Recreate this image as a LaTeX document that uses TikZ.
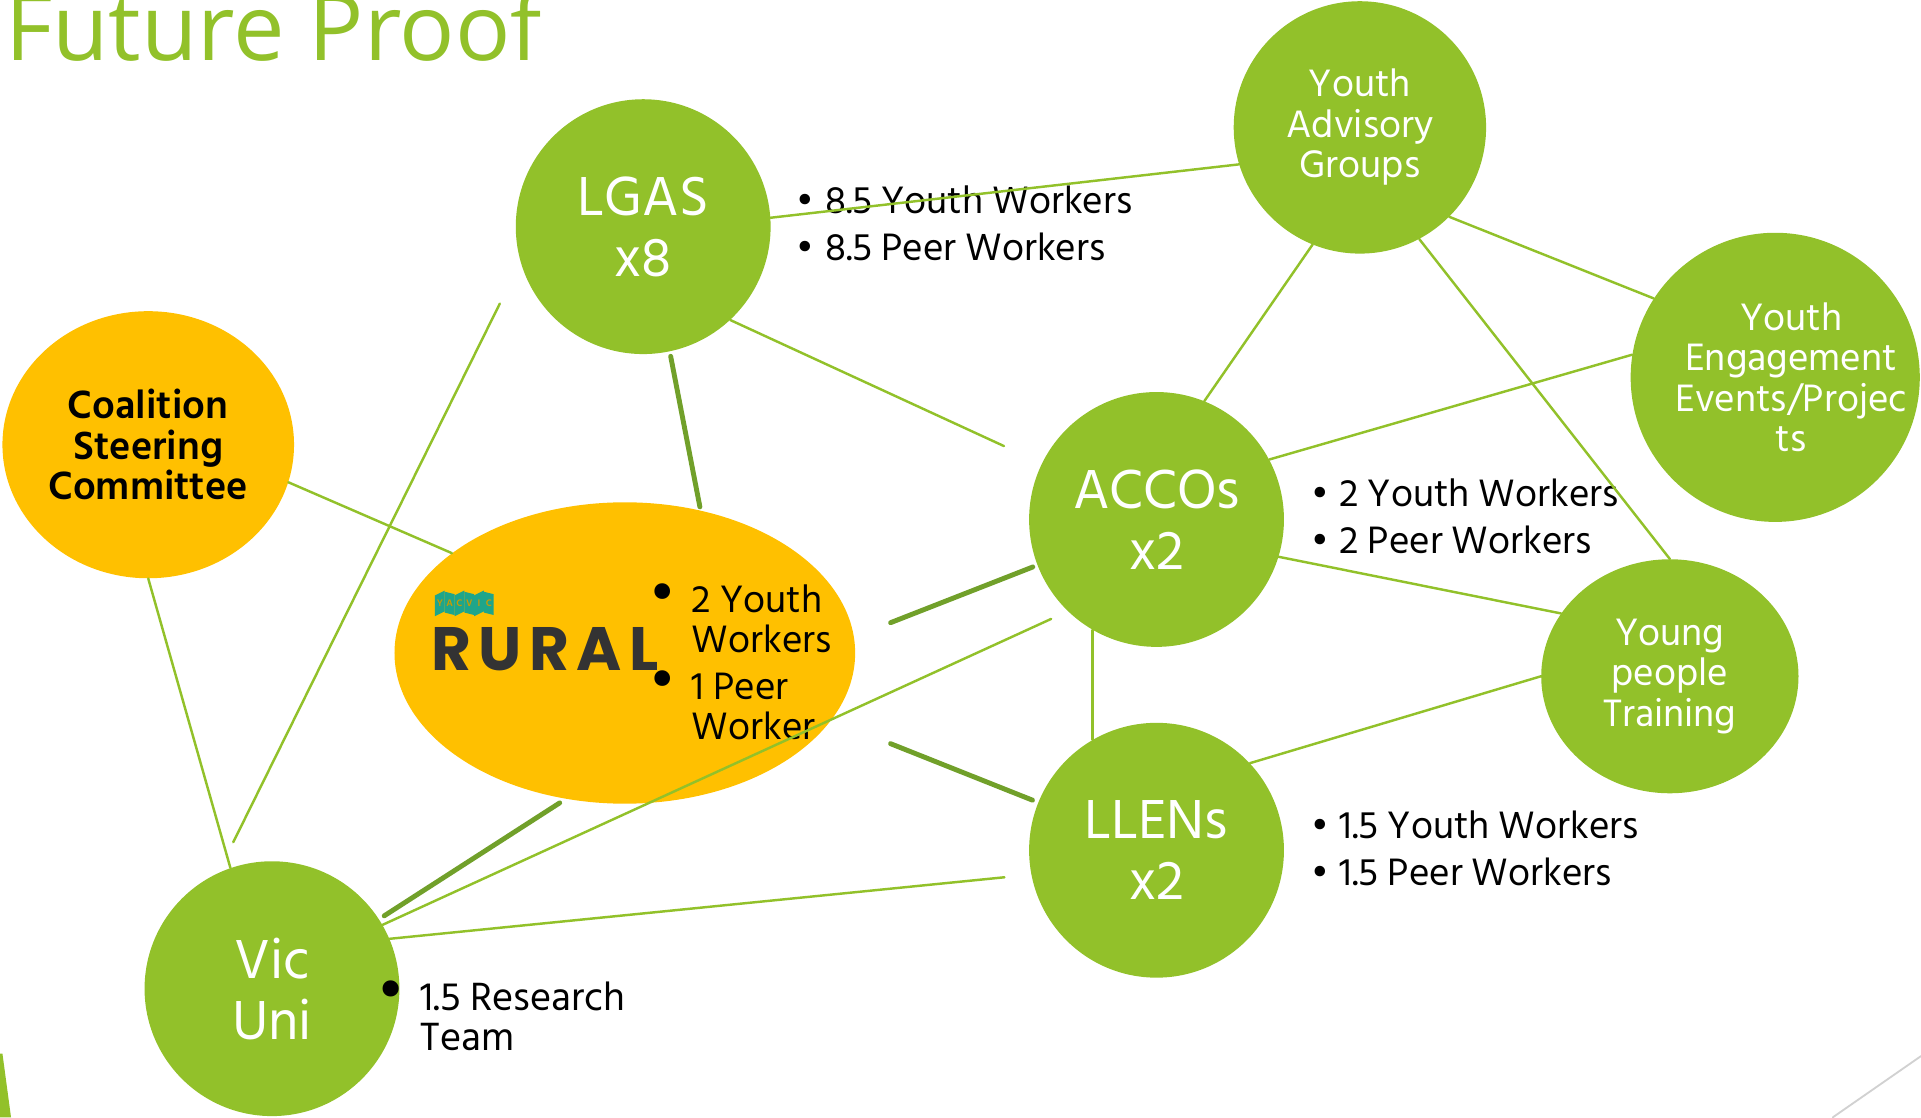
\documentclass[tikz,border=0pt]{standalone}
\usepackage{fontspec}
\setmainfont{Hind Siliguri}
\newfontfamily\titlefont{Open Sans}
\newfontfamily\logofont[LetterSpace=12]{Poppins}
\usetikzlibrary{shapes.geometric}
\definecolor{leaf}{HTML}{92C12A}
\definecolor{amber}{HTML}{FFC000}
\definecolor{moss}{HTML}{71A02A}
\definecolor{yacteal}{HTML}{1FA58A}
\definecolor{inkgrey}{HTML}{333333}
\tikzset{
  hub/.style={circle, fill=leaf, text=white, minimum size=208pt, inner sep=0pt, align=center, font=\fontsize{46}{50}\selectfont},
  hubsmall/.style={fill=leaf, text=white, inner sep=0pt, align=center, font=\fontsize{32}{33}\selectfont},
  blob/.style={ellipse, fill=amber, inner sep=0pt, align=center},
  link/.style={leaf, line width=2pt},
  tie/.style={moss, line width=4pt},
  note/.style={anchor=west, inner sep=0pt, font=\fontsize{32}{38}\selectfont}
}
\newcommand{\bul}{\textbullet}
\newcommand{\bigbul}{\scalebox{1.5}{\textbullet}}
\begin{document}
\begin{tikzpicture}[x=1pt, y=-1pt, line cap=round]
  \useasboundingbox (0,0) rectangle (1568,912);
  % title
  \node[anchor=base west, inner sep=0pt, text=leaf, font=\titlefont\fontsize{75}{75}\selectfont] (title) at (4,49) {Future Proof};
  % nodes
  \node[hub] (lgas) at (525,185) {LGAS\\x8};
  \node[hub] (accos) at (944,424) {ACCOs\\x2};
  \node[hub] (llens) at (944,694) {LLENs\\x2};
  \node[hub] (vicuni) at (222,807) {Vic\\Uni};
  \node[hubsmall, circle, minimum size=206pt] (yag) at (1110,104) {Youth\\Advisory\\Groups};
  \node[hubsmall, circle, minimum size=236pt] (yee) at (1449,308) {};
  \node[hubsmall, fill=none] (yeetext) at (1462,308) {Youth\\Engagement\\Events/Projec\\ts};
  \node[hubsmall, ellipse, minimum width=210pt, minimum height=191pt] (ypt) at (1363,552) {Young\\people\\Training};
  \node[blob, minimum width=238pt, minimum height=218pt, font=\bfseries\fontsize{33}{33}\selectfont] (csc) at (121,363) {Coalition\\Steering\\Committee};
  \node[blob, minimum width=376pt, minimum height=246pt] (rural) at (510,533) {};
  % RURAL logo
  \foreach \i/\c in {0/Y,1/A,2/C,3/V,4/I,5/C}{
    \pgfmathsetmacro{\dy}{mod(\i,2)==0 ? 2 : -1}
    \fill[yacteal] (355+8*\i,484+\dy) -- (363+8*\i,484-\dy) -- (363+8*\i,501-\dy) -- (355+8*\i,501+\dy) -- cycle;
    \node[inner sep=0pt, text=amber!80!black, font=\bfseries\fontsize{8}{8}\selectfont] at (359+8*\i,492.5) {\c};
  }
  \node[inner sep=0pt, anchor=base west, text=inkgrey, font=\logofont\bfseries\fontsize{50}{50}\selectfont] (logo) at (352,547) {RURAL};
  % worker notes
  \node[note] (lgasnote) at (650,186) {\begin{tabular}{@{}l@{\hspace{9pt}}l@{}}\bul&8.5 Youth Workers\\\bul&8.5 Peer Workers\end{tabular}};
  \node[note] (accosnote) at (1070,425) {\begin{tabular}{@{}l@{\hspace{9pt}}l@{}}\bul&2 Youth Workers\\\bul&2 Peer Workers\end{tabular}};
  \node[note] (llensnote) at (1070,696) {\begin{tabular}{@{}l@{\hspace{9pt}}l@{}}\bul&1.5 Youth Workers\\\bul&1.5 Peer Workers\end{tabular}};
  \node[note, font=\fontsize{32}{33}\selectfont] (ruralnote) at (530,545) {\begin{tabular}{@{}l@{\hspace{13pt}}l@{}}\bigbul&2 Youth\\&Workers\\[5pt]\bigbul&1 Peer\\&Worker\end{tabular}};
  \node[note, font=\fontsize{33}{33}\selectfont] (vicuninote) at (308,834) {\begin{tabular}{@{}l@{\hspace{13pt}}l@{}}\bigbul&1.5 Research\\&Team\end{tabular}};
  % links
  \draw[link] (lgas.4) -- (yag.197);
  \draw[link, shorten >=34pt] (lgas.-47) -- (accos.154);
  \draw[link] (csc.-15) -- (rural.150);
  \draw[link] (csc.-90) -- (vicuni.109);
  \draw[link, shorten <=28pt, shorten >=38pt] (vicuni.115) -- (lgas.196);
  \draw[link, shorten >=15pt] (vicuni.30) -- (accos.226);
  \draw[link, shorten >=22pt] (vicuni.23) -- (llens.191.5);
  \draw[link] (accos.68) -- (yag.248);
  \draw[link] (accos.28) -- (yee.171);
  \draw[link] (accos.-17) -- (ypt.150);
  \draw[link] (accos.240) -- (llens.120);
  \draw[link] (yag.-45) -- (yee.147);
  \draw[link] (yag.-62) -- (ypt.90);
  \draw[link] (llens.43) -- (ypt.180);
  \draw[tie, shorten <=4pt, shorten >=3pt] (lgas.-78) -- (rural.62);
  \draw[tie, shorten <=32pt, shorten >=4pt] (rural.4) -- (accos.201);
  \draw[tie, shorten <=52pt, shorten >=5pt] (rural.-18) -- (llens.158);
  \draw[tie, shorten <=6pt, shorten >=5pt] (rural.248) -- (vicuni.33);
  % slide corners
  \fill[leaf] (0,860) -- (2,860) -- (9,912) -- (0,912) -- cycle;
  \draw[black!18, line width=1.5pt] (1496,912) -- (1568,862);
\end{tikzpicture}
\end{document}
